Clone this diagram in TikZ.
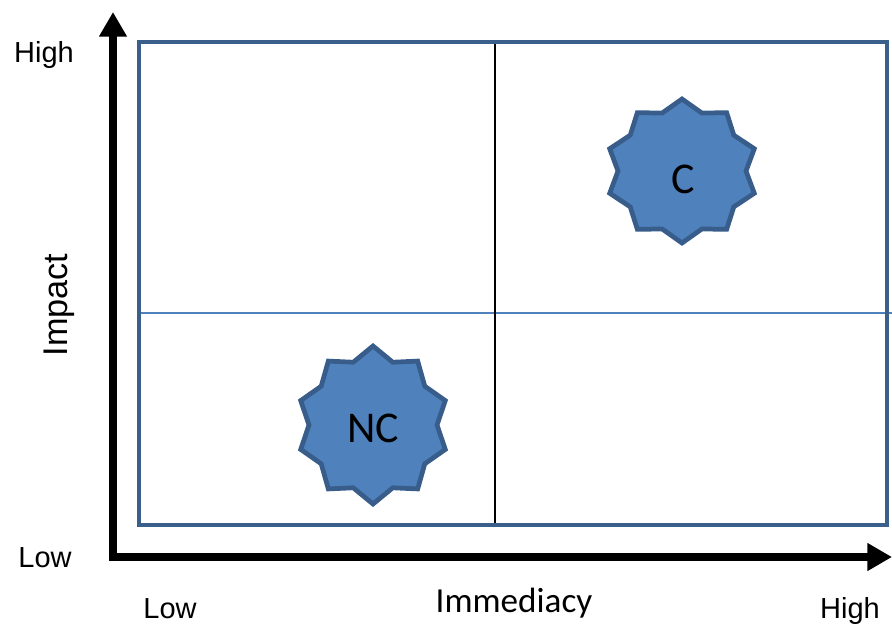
\documentclass[tikz,border=0pt]{standalone}
\usepackage{fontspec}
\setmainfont{Liberation Sans}
\newfontfamily\calibri{Carlito}
\usetikzlibrary{
	arrows.meta,									% tips of the two axes
}

\definecolor{boxline}{HTML}{3A5F8B}
\definecolor{starfill}{HTML}{4F81BD}
\definecolor{starline}{HTML}{385D8A}

\tikzset{
	axis/.style={line width=4.5pt, line join=miter,
		{Triangle[length=14pt, width=15pt]}-{Triangle[length=14pt, width=15pt]}},
	quadrant/.style={draw=boxline, line width=2.6pt},
	splitv/.style={draw=black, line width=1pt},
	splith/.style={draw=starfill, line width=1.2pt},
	starbody/.style={draw=starline, fill=starfill, line width=2.7pt, line join=miter},
	startext/.style={anchor=base, font=\calibri\fontsize{25}{30}\selectfont},
	tick/.style={anchor=base, font=\fontsize{16.5}{20}\selectfont},
}

\begin{document}
\begin{tikzpicture}[x=0.02cm, y=-0.02cm]
		\useasboundingbox (0,0) rectangle (892,623);
		% the four quadrants
		\draw[splith] (139,313) -- (892,313);
		\draw[splitv] (495,42) -- (495,525);
		\draw[quadrant] (139,42) rectangle (887,525);
		% axes
		\coordinate (origin) at (113,557);
		\coordinate (ytip) at (113,12);
		\coordinate (xtip) at (892,557);
		\draw[axis] (ytip) -- (origin) -- (xtip);
		% axis labels
		\node[tick] (highY) at (44,62) {High};
		\node[tick] (lowY) at (45,567) {Low};
		\node[tick] (lowX) at (170,618) {Low};
		\node[tick] (highX) at (850,618) {High};
		\node[anchor=base, font=\calibri\fontsize{20}{24}\selectfont] (immediacy) at (514,612) {Immediacy};
		\node[anchor=base, rotate=90, font=\fontsize{19.5}{24}\selectfont] (impact) at (67,305) {Impact};
		% ten-point stars, outer and inner corners in turn
		\draw[starbody, shift={(682,171)}] (90:76 and 72)
			\foreach \a in {90,126,...,378} {-- ({\a+18}:64 and 61) -- ({\a+36}:76 and 72)}
			-- (432:64 and 61) -- cycle;
		\draw[starbody, shift={(373,425)}] (90:76 and 79)
			\foreach \a in {90,126,...,378} {-- ({\a+18}:64 and 66) -- ({\a+36}:76 and 79)}
			-- (432:64 and 66) -- cycle;
		\node[startext] (itemC) at (683,193) {C};
		\node[startext] (itemNC) at (373,442) {NC};
	\end{tikzpicture}
\end{document}
